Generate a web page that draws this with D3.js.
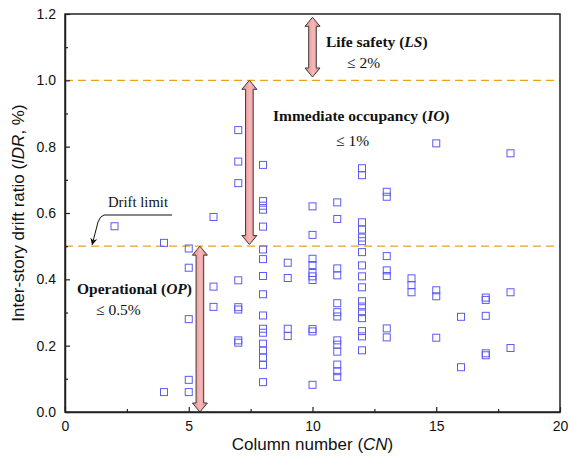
<!DOCTYPE html>
<html>
<head>
<meta charset="utf-8">
<script src="https://cdn.jsdelivr.net/npm/d3@7/dist/d3.min.js"></script>
<style>
  html, body { margin: 0; padding: 0; background: #fff; }
  svg { display: block; }
</style>
</head>
<body>
<svg id="chart" width="570" height="467"></svg>
<script>
// Column number of each tested frame and its inter-story drift ratio (%)
const columnNumbers = [
  2,
  4, 4,
  5, 5, 5, 5, 5,
  6, 6, 6,
  7, 7, 7, 7, 7, 7, 7, 7,
  8, 8, 8, 8, 8, 8, 8, 8, 8, 8, 8, 8, 8, 8, 8, 8, 8,
  9, 9, 9, 9,
  10, 10, 10, 10, 10, 10, 10, 10, 10, 10,
  11, 11, 11, 11, 11, 11, 11, 11, 11, 11, 11, 11, 11,
  12, 12, 12, 12, 12, 12, 12, 12, 12, 12, 12, 12, 12, 12, 12, 12, 12,
  13, 13, 13, 13, 13, 13, 13,
  14, 14, 14,
  15, 15, 15, 15,
  16, 16,
  17, 17, 17, 17, 17,
  18, 18, 18
];
const driftRatios = [
  0.56,
  0.51, 0.06,
  0.493, 0.435, 0.28, 0.097, 0.06,
  0.588, 0.378, 0.317,
  0.85, 0.755, 0.69, 0.397, 0.316, 0.309, 0.216, 0.209,
  0.745, 0.636, 0.622, 0.61, 0.559, 0.49, 0.461, 0.41, 0.355, 0.291, 0.251, 0.239, 0.206, 0.186, 0.164, 0.142, 0.09,
  0.45, 0.404, 0.251, 0.229,
  0.62, 0.534, 0.462, 0.443, 0.419, 0.409, 0.398, 0.25, 0.243, 0.082,
  0.632, 0.582, 0.433, 0.412, 0.328, 0.301, 0.288, 0.216, 0.203, 0.182, 0.143, 0.123, 0.106,
  0.735, 0.714, 0.572, 0.55, 0.526, 0.515, 0.482, 0.442, 0.409, 0.376, 0.334, 0.318, 0.301, 0.283, 0.244, 0.228, 0.186,
  0.664, 0.649, 0.47, 0.427, 0.41, 0.252, 0.225,
  0.403, 0.383, 0.361,
  0.81, 0.367, 0.349, 0.224,
  0.287, 0.135,
  0.345, 0.338, 0.29, 0.177, 0.171,
  0.78, 0.361, 0.193
];

// Axis ticks
const xTicks = [0, 5, 10, 15, 20];
const xMinorTicks = [2.5, 7.5, 12.5, 17.5];
const yTicks = [0.0, 0.2, 0.4, 0.6, 0.8, 1.0, 1.2];
const yMinorTicks = [0.1, 0.3, 0.5, 0.7, 0.9, 1.1];

// Performance-level thresholds (drawn as dashed lines)
const limitLines = [1.0, 0.5];

// Performance-level range arrows: column position, start and end drift
const rangeArrowX = [10, 7.45, 5.45];
const rangeArrowFrom = [1.01, 0.505, 0.0];
const rangeArrowTo = [1.19, 1.0, 0.5];

const svg = d3.select("#chart");
const margin = { left: 65, right: 10, top: 14, bottom: 55 };
const W = 570, H = 467;
const x = d3.scaleLinear().domain([0, 20]).range([margin.left, W - margin.right]);
const y = d3.scaleLinear().domain([0, 1.2]).range([H - margin.bottom, margin.top]);

const sans = "'Liberation Sans', Arial, sans-serif";
const serif = "'Liberation Serif', 'Times New Roman', serif";

// Gradient for the block arrows
const defs = svg.append("defs");
const grad = defs.append("linearGradient").attr("id", "arrowFill")
  .attr("x1", "0%").attr("x2", "100%").attr("y1", "0%").attr("y2", "0%");
grad.append("stop").attr("offset", "0%").attr("stop-color", "#e98a8a");
grad.append("stop").attr("offset", "55%").attr("stop-color", "#f6b9b9");
grad.append("stop").attr("offset", "100%").attr("stop-color", "#e58383");
defs.append("marker").attr("id", "leaderHead")
  .attr("viewBox", "0 0 10 10").attr("refX", 9).attr("refY", 5)
  .attr("markerWidth", 7).attr("markerHeight", 7).attr("orient", "auto")
  .append("path").attr("d", "M0,0 L10,5 L0,10 L3,5 Z").attr("fill", "#111");

// Threshold lines
svg.selectAll("line.limit").data(limitLines).join("line")
  .attr("class", "limit")
  .attr("x1", x(0)).attr("x2", x(20))
  .attr("y1", d => y(d)).attr("y2", d => y(d))
  .attr("stroke", "#e9a21f").attr("stroke-width", 1.3)
  .attr("stroke-dasharray", "8,5");

// Data markers
const points = columnNumbers.map((c, i) => ({ c, v: driftRatios[i] }));
const s = 7;
svg.selectAll("rect.pt").data(points).join("rect")
  .attr("class", "pt")
  .attr("x", d => x(d.c) - s / 2).attr("y", d => y(d.v) - s / 2)
  .attr("width", s).attr("height", s)
  .attr("fill", "none").attr("stroke", "#5b5bf2").attr("stroke-width", 1);

// Double-headed block arrows
function blockArrow(cx, yA, yB) {
  const top = Math.min(yA, yB), bot = Math.max(yA, yB);
  const hl = 9, hw = 7.5, sw = 3.8;
  return [
    [cx, top], [cx + hw, top + hl], [cx + sw, top + hl],
    [cx + sw, bot - hl], [cx + hw, bot - hl], [cx, bot],
    [cx - hw, bot - hl], [cx - sw, bot - hl], [cx - sw, top + hl],
    [cx - hw, top + hl]
  ].map(p => p.join(",")).join(" ");
}
svg.selectAll("polygon.range").data(rangeArrowX).join("polygon")
  .attr("class", "range")
  .attr("points", (d, i) => blockArrow(x(d), y(rangeArrowFrom[i]), y(rangeArrowTo[i])))
  .attr("fill", "url(#arrowFill)").attr("stroke", "#3a3a3a").attr("stroke-width", 1);

// Axis frame
svg.append("rect")
  .attr("x", x(0)).attr("y", y(1.2))
  .attr("width", x(20) - x(0)).attr("height", y(0) - y(1.2))
  .attr("fill", "none").attr("stroke", "#222").attr("stroke-width", 1.5);

// X axis (ticks pointing inward)
svg.append("g").attr("transform", `translate(0,${y(0)})`)
  .call(d3.axisBottom(x).tickValues(xTicks).tickSizeInner(-5).tickSizeOuter(0).tickPadding(9).tickFormat(d3.format("d")));
svg.append("g").attr("transform", `translate(0,${y(0)})`)
  .call(d3.axisBottom(x).tickValues(xMinorTicks).tickSizeInner(-3).tickSizeOuter(0).tickFormat(""))
  .select(".domain").remove();
// Y axis
svg.append("g").attr("transform", `translate(${x(0)},0)`)
  .call(d3.axisLeft(y).tickValues(yTicks).tickSizeInner(-5).tickSizeOuter(0).tickPadding(9).tickFormat(d3.format(".1f")));
svg.append("g").attr("transform", `translate(${x(0)},0)`)
  .call(d3.axisLeft(y).tickValues(yMinorTicks).tickSizeInner(-3).tickSizeOuter(0).tickFormat(""))
  .select(".domain").remove();
svg.selectAll(".domain").attr("stroke", "#222").attr("stroke-width", 1.5);
svg.selectAll(".tick line").attr("stroke", "#222").attr("stroke-width", 1.2);
svg.selectAll(".tick text").attr("font-family", sans).attr("font-size", 14).attr("fill", "#111");

// Axis titles
const xt = svg.append("text")
  .attr("x", (x(0) + x(20)) / 2).attr("y", 450)
  .attr("text-anchor", "middle").attr("font-family", sans).attr("font-size", 17).attr("fill", "#111");
xt.append("tspan").text("Column number (");
xt.append("tspan").attr("font-style", "italic").text("CN");
xt.append("tspan").text(")");

const yt = svg.append("text")
  .attr("transform", `translate(24,${(y(0) + y(1.2)) / 2}) rotate(-90)`)
  .attr("text-anchor", "middle").attr("font-family", sans).attr("font-size", 17).attr("fill", "#111");
yt.append("tspan").text("Inter-story drift ratio (");
yt.append("tspan").attr("font-style", "italic").text("IDR");
yt.append("tspan").text(", %)");

// Performance-level annotations
function levelLabel(px, py, name, abbr) {
  const t = svg.append("text").attr("x", px).attr("y", py)
    .attr("font-family", serif).attr("font-size", 15.5).attr("font-weight", "bold").attr("fill", "#111");
  t.append("tspan").text(name + " (");
  t.append("tspan").attr("font-style", "italic").text(abbr);
  t.append("tspan").text(")");
}
function limitLabel(px, py, txt) {
  svg.append("text").attr("x", px).attr("y", py)
    .attr("font-family", serif).attr("font-size", 15.5).attr("fill", "#111").text(txt);
}
levelLabel(326, 47, "Life safety", "LS");
limitLabel(347, 68, "\u2264 2%");
levelLabel(273, 121, "Immediate occupancy", "IO");
limitLabel(336, 146, "\u2264 1%");
levelLabel(77, 294, "Operational", "OP");
limitLabel(96, 315, "\u2264 0.5%");

// Drift limit callout
svg.append("text").attr("x", 108).attr("y", 207)
  .attr("font-family", serif).attr("font-size", 14.7).attr("fill", "#111").text("Drift limit");
svg.append("path")
  .attr("d", `M172,215 L104,215 Q100,216 98,222 L${x(1.1)},${y(0.505)}`)
  .attr("fill", "none").attr("stroke", "#111").attr("stroke-width", 1)
  .attr("marker-end", "url(#leaderHead)");
</script>
</body>
</html>
